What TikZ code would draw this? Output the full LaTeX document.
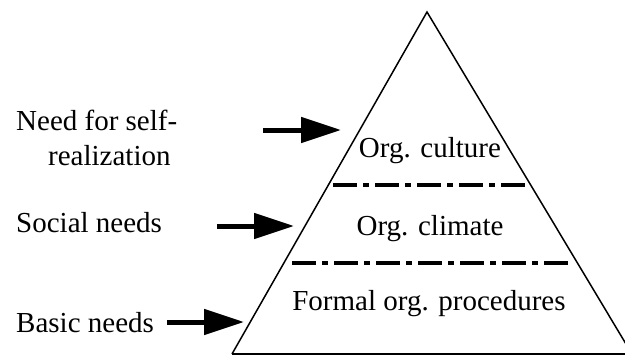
\documentclass[tikz,border=0pt]{standalone}
\usepackage{fontspec}
\setmainfont{Liberation Serif}
\usetikzlibrary{arrows.meta}
\begin{document}
\begin{tikzpicture}[x=1pt,y=-1pt,
  lbl/.style={inner sep=0pt,font=\fontsize{29}{34}\selectfont},
  side/.style={line width=1.5pt,line join=miter},
  sep/.style={line width=4pt,dash pattern=on 24pt off 6pt on 6pt off 6pt},
  need/.style={line width=5pt,-{Triangle[length=40pt,width=25pt]}}]
\useasboundingbox (0,0) rectangle (625,356);
\clip (0,0) rectangle (625,356);
\fill[white] (0,0) rectangle (625,356);

% pyramid
\coordinate (apex) at (427,12);
\coordinate (bl) at (232,354);
\coordinate (br) at (632,354);
\draw[side] (bl) -- (apex) -- (br);
\draw[line width=2.5pt] (bl) -- (br);

% layer separators
\coordinate (s1a) at (333,185);
\coordinate (s1b) at (527,185);
\coordinate (s2a) at (292,263);
\coordinate (s2b) at (572,263);
\draw[sep] (s1a) -- (s1b);
\draw[sep] (s2a) -- (s2b);

% layer names
\node[lbl,anchor=base] (culture) at (430,157) {Org. culture};
\node[lbl,anchor=base] (climate) at (430,235) {Org. climate};
\node[lbl,anchor=base] (formal) at (429,310) {Formal org. procedures};

% needs
\node[lbl,anchor=base west] (self1) at (16,130) {Need for self-};
\node[lbl,anchor=base west] (self2) at (48,165) {realization};
\node[lbl,anchor=base west] (social) at (16,232) {Social needs};
\node[lbl,anchor=base west] (basic) at (16,332) {Basic needs};

% arrows
\coordinate (a1s) at (263,130);
\coordinate (a1e) at (341,130);
\coordinate (a2s) at (217,226);
\coordinate (a2e) at (294,226);
\coordinate (a3s) at (167,322);
\coordinate (a3e) at (244,322);
\draw[need] (a1s) -- (a1e);
\draw[need] (a2s) -- (a2e);
\draw[need] (a3s) -- (a3e);
\end{tikzpicture}
\end{document}
